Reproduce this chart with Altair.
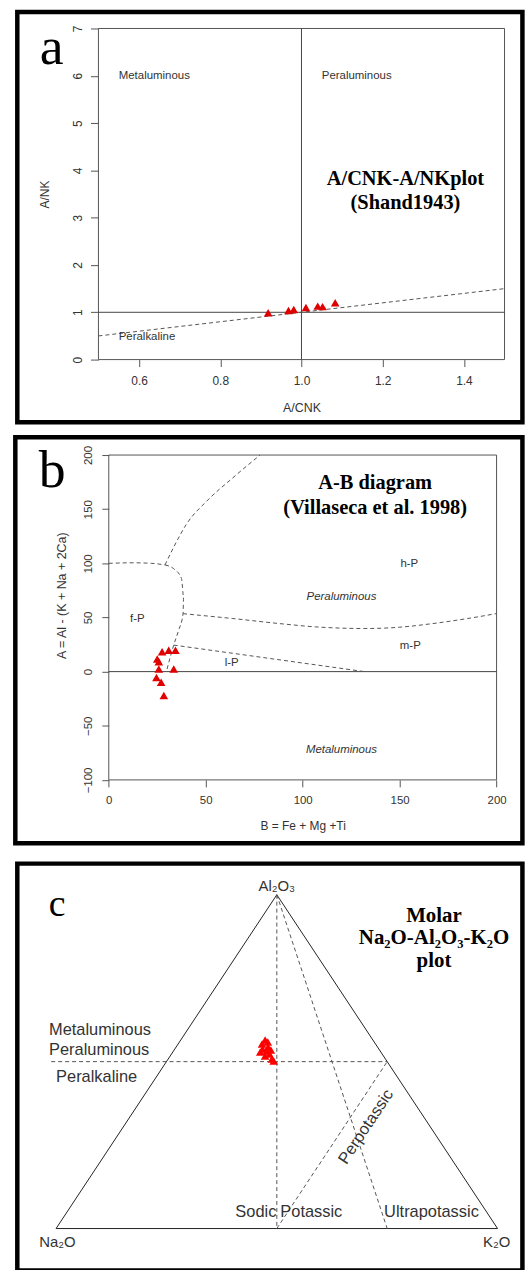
import altair as alt
import pandas as pd

# ---------------- data ----------------
# Panel a : A/CNK - A/NK (Shand 1943)
a_acnk = [0.918, 0.968, 0.981, 1.011, 1.040, 1.052, 1.083]
a_ank = [0.99, 1.04, 1.06, 1.10, 1.13, 1.12, 1.20]
a_div_x = [0.5, 1.5]          # dashed peralkaline divider
a_div_y = [0.5, 1.5]
a_xticks = [0.6, 0.8, 1.0, 1.2, 1.4]
a_yticks = [0, 1, 2, 3, 4, 5, 6, 7]
a_labels = ["Metaluminous", "Peraluminous", "Peralkaline"]
a_label_x = [0.55, 1.05, 0.55]
a_label_y = [6.0, 6.0, 0.47]
a_title = ["A/CNK-A/NKplot", "(Shand1943)"]
a_title_x = [1.256, 1.256]
a_title_y = [3.70, 3.19]

# Panel b : A-B diagram (Villaseca et al. 1998)
b_B = [27.5, 30.9, 34.4, 25.0, 25.8, 25.8, 33.5, 24.6, 27.0, 28.4]
b_A = [18.4, 19.8, 19.8, 11.6, 9.2, 2.4, 2.4, -5.5, -9.8, -22.0]
b_curves = {
    "fP_top": [(0, 100), (12, 100.5), (22, 100), (29, 98.5)],
    "upper": [(29, 98.5), (33.5, 115), (40, 136), (50.6, 157.6), (64, 179), (78, 200)],
    "fP_right": [(29, 98.5), (33.5, 95), (37.5, 86), (38.6, 69), (38.3, 53.5),
                 (36, 38), (33.5, 24.5), (30, 2)],
    "hP_mP": [(38.3, 53.5), (64, 49), (90, 44), (106.8, 41.3), (132.6, 39.8),
              (150, 41), (166.8, 44.3), (185, 49), (200, 53.6)],
    "mP_lP": [(33.5, 24.5), (131.8, 0)],
}
b_xticks = [0, 50, 100, 150, 200]
b_yticks = [-100, -50, 0, 50, 100, 150, 200]
b_labels = ["f-P", "h-P", "m-P", "l-P"]
b_label_x = [14.7, 155, 155.5, 63.4]
b_label_y = [49, 99.5, 23.5, 7.6]
b_italic = ["Peraluminous", "Metaluminous"]
b_italic_x = [120, 120]
b_italic_y = [69, -72]
b_title = ["A-B diagram", "(Villaseca et al. 1998)"]
b_title_x = [137.4, 137.4]
b_title_y = [168.5, 145.5]

# Panel c : molar Na2O - Al2O3 - K2O ternary (proportions)
c_Na = [0.257, 0.244, 0.241, 0.263, 0.257, 0.255, 0.268, 0.257, 0.256, 0.248, 0.246, 0.273]
c_Al = [0.553, 0.565, 0.559, 0.538, 0.532, 0.523, 0.517, 0.508, 0.502, 0.544, 0.535, 0.529]
c_K = [0.190, 0.191, 0.200, 0.199, 0.211, 0.222, 0.215, 0.235, 0.242, 0.208, 0.219, 0.198]
c_frame = [(1, 0, 0), (0, 0, 1), (0, 1, 0), (1, 0, 0)]   # Na2O, K2O, Al2O3 corners
c_guides = {
    "ank1": [(0.761, 0.5, -0.261), (0, 0.5, 0.5)],
    "na_eq_k": [(0, 1, 0), (0.5, 0, 0.5)],
    "ultra": [(0, 1, 0), (0.25, 0, 0.75)],
    "perpot": [(0.5, 0, 0.5), (0, 0.5, 0.5)],
}
# text anchors in the ternary plane (x: Na2O=0 .. K2O=1, y: base=0 .. apex=1)
c_corner = ["Al₂O₃", "Na₂O", "K₂O"]
c_corner_x = [0.5, 0.003, 0.998]
c_corner_y = [1.027, -0.04, -0.04]
c_left = ["Metaluminous", "Peraluminous", "Peralkaline"]
c_left_x = [-0.016, -0.016, 0.0]
c_left_y = [0.595, 0.536, 0.454]
c_field = ["Sodic", "Potassic", "Ultrapotassic"]
c_field_x = [0.499, 0.508, 0.743]
c_field_y = [0.05, 0.05, 0.05]
c_perpot_x, c_perpot_y = 0.702, 0.305
c_title = ["Molar", "Na₂O-Al₂O₃-K₂O", "plot"]
c_title_x = [0.856, 0.856, 0.856]
c_title_y = [0.917, 0.851, 0.785]


def tern_xy(na, al, k):
    s = na + al + k
    return (k + al / 2) / s, al / s


# ---------------- style helpers ----------------
SANS = "Liberation Sans"
SERIF = "Liberation Serif"
RED = "#e00000"
GREY = "#555555"
TXT = "#333333"
one = pd.DataFrame({"d": [0]})


def axis(**kw):
    base = dict(domain=False, grid=False, tickColor=GREY, tickWidth=1,
                labelColor=TXT, titleColor=TXT, labelFont=SANS, titleFont=SANS,
                titleFontWeight="normal", labelFlush=False, labelOverlap=False)
    base.update(kw)
    return alt.Axis(**base)


def border(x1, x2, y1, y2):
    return alt.Chart(one).mark_rect(fill="transparent", stroke="black", strokeWidth=4.5).encode(
        x=alt.value(x1), x2=alt.value(x2), y=alt.value(y1), y2=alt.value(y2))


def letter(t, x, y, size):
    return alt.Chart(pd.DataFrame({"t": [t]})).mark_text(
        font=SERIF, fontSize=size, align="left", baseline="alphabetic", color="black"
    ).encode(x=alt.value(x), y=alt.value(y), text="t:N")


# ---------------- panel a ----------------
axs = alt.Scale(domain=[0.5, 1.5], nice=False, zero=False)
ays = alt.Scale(domain=[0, 7], nice=False, zero=False)
ax_axis = axis(values=a_xticks, format=".1f", tickSize=7, labelFontSize=12, labelPadding=9,
               title="A/CNK", titleFontSize=12.5, titlePadding=15)
ay_axis = axis(values=a_yticks, labelAngle=270, labelAlign="center", labelBaseline="bottom",
               tickSize=8, labelFontSize=12, labelPadding=6, title="A/NK",
               titleFontSize=12, titlePadding=20)


def XA(f="x"):
    return alt.X(f"{f}:Q", scale=axs, axis=ax_axis)


def YA(f="y"):
    return alt.Y(f"{f}:Q", scale=ays, axis=ay_axis)


a_box = alt.Chart(pd.DataFrame({"x": [0.5], "x2": [1.5], "y": [0], "y2": [7]})).mark_rect(
    fill="transparent", stroke=GREY, strokeWidth=1).encode(x=XA(), x2="x2:Q", y=YA(), y2="y2:Q")
a_ref = alt.Chart(pd.DataFrame({"x": [1.0, 0.5], "x2": [1.0, 1.5], "y": [0, 1], "y2": [7, 1]})).mark_rule(
    color="#444444", strokeWidth=1).encode(x=XA(), x2="x2:Q", y=YA(), y2="y2:Q")
a_div = alt.Chart(pd.DataFrame({"x": a_div_x, "y": a_div_y})).mark_line(
    color=GREY, strokeWidth=1, strokeDash=[4, 3]).encode(x=XA(), y=YA())
a_pts = alt.Chart(pd.DataFrame({"x": a_acnk, "y": a_ank})).mark_point(
    shape="triangle-up", filled=True, color=RED, size=75, opacity=1).encode(x=XA(), y=YA())
a_lab = alt.Chart(pd.DataFrame({"x": a_label_x, "y": a_label_y, "t": a_labels})).mark_text(
    font=SANS, fontSize=11.5, align="left", baseline="middle", color=TXT).encode(
    x=XA(), y=YA(), text="t:N")
a_tit = alt.Chart(pd.DataFrame({"x": a_title_x, "y": a_title_y, "t": a_title})).mark_text(
    font=SERIF, fontSize=20.5, fontWeight="bold", align="center", baseline="alphabetic",
    color="black").encode(x=XA(), y=YA(), text="t:N")

panel_a = alt.layer(
    a_box, a_ref, a_div, a_pts, a_lab, a_tit,
    border(-81.6, 426.4, -16.5, 396), letter("a", -59, 36, 54),
).properties(width=408.4, height=333)

# ---------------- panel b ----------------
bxs = alt.Scale(domain=[0, 200], range=[10.4, 400.4], nice=False, zero=False)
bys = alt.Scale(domain=[-100, 200], nice=False, zero=False)
bx_axis = axis(values=b_xticks, tickSize=7, labelFontSize=11.5, labelPadding=8,
               title="B = Fe + Mg +Ti", titleFontSize=12, titlePadding=14)
by_axis = axis(values=b_yticks, labelAngle=270, labelAlign="center", labelBaseline="bottom",
               tickSize=7, labelFontSize=11.5, labelPadding=8, offset=-10.4,
               title="A = Al - (K + Na + 2Ca)", titleFontSize=12.5, titlePadding=15,
               titleY=141, titleAlign="center")


def XB():
    return alt.X("x:Q", scale=bxs, axis=bx_axis)


def YB():
    return alt.Y("y:Q", scale=bys, axis=by_axis)


b_box = alt.Chart(pd.DataFrame({"x": [0], "x2": [200], "y": [-100], "y2": [200]})).mark_rect(
    fill="transparent", stroke=GREY, strokeWidth=1).encode(x=XB(), x2="x2:Q", y=YB(), y2="y2:Q")
b_zero = alt.Chart(pd.DataFrame({"x": [0], "x2": [200], "y": [0]})).mark_rule(
    color="#444444", strokeWidth=1).encode(x=XB(), x2="x2:Q", y=YB())
rows = []
for name, pts in b_curves.items():
    for i, (x, y) in enumerate(pts):
        rows.append({"id": name, "o": i, "x": x, "y": y})
b_lines = alt.Chart(pd.DataFrame(rows)).mark_line(
    color=GREY, strokeWidth=1, strokeDash=[4, 3], interpolate="monotone").encode(
    x=XB(), y=YB(), detail="id:N", order="o:Q")
b_pts = alt.Chart(pd.DataFrame({"x": b_B, "y": b_A})).mark_point(
    shape="triangle-up", filled=True, color=RED, size=75, opacity=1).encode(x=XB(), y=YB())
b_lab = alt.Chart(pd.DataFrame({"x": b_label_x, "y": b_label_y, "t": b_labels})).mark_text(
    font=SANS, fontSize=11.5, align="center", baseline="middle", color=TXT).encode(
    x=XB(), y=YB(), text="t:N")
b_ital = alt.Chart(pd.DataFrame({"x": b_italic_x, "y": b_italic_y, "t": b_italic})).mark_text(
    font=SANS, fontSize=11.5, fontStyle="italic", align="center", baseline="middle",
    color=TXT).encode(x=XB(), y=YB(), text="t:N")
b_tit = alt.Chart(pd.DataFrame({"x": b_title_x, "y": b_title_y, "t": b_title})).mark_text(
    font=SERIF, fontSize=20.5, fontWeight="bold", align="center", baseline="alphabetic",
    color="black").encode(x=XB(), y=YB(), text="t:N")

panel_b = alt.layer(
    b_box, b_zero, b_lines, b_pts, b_lab, b_ital, b_tit,
    border(-83.6, 426.4, -18, 390.5), letter("b", -60, 32, 54),
).properties(width=400.4, height=326.7)

# ---------------- panel c ----------------
cxs = alt.Scale(domain=[0, 1], range=[-42.6, 401.4], nice=False, zero=False)
cys = alt.Scale(domain=[0, 1], nice=False, zero=False)


def XC():
    return alt.X("x:Q", scale=cxs, axis=None)


def YC():
    return alt.Y("y:Q", scale=cys, axis=None)


def tern_df(triples):
    xs, ys = zip(*[tern_xy(*t) for t in triples])
    return pd.DataFrame({"x": xs, "y": ys})


def text_df(xs, ys, ts):
    return pd.DataFrame({"x": xs, "y": ys, "t": ts})


fr = tern_df(c_frame)
fr["o"] = range(len(fr))
c_frame_ch = alt.Chart(fr).mark_line(color="#222222", strokeWidth=1).encode(
    x=XC(), y=YC(), order="o:Q")
rows = []
for name, pts in c_guides.items():
    for i, t in enumerate(pts):
        x, y = tern_xy(*t)
        rows.append({"id": name, "o": i, "x": x, "y": y})
c_guide_ch = alt.Chart(pd.DataFrame(rows)).mark_line(
    color=GREY, strokeWidth=1, strokeDash=[4, 3]).encode(
    x=XC(), y=YC(), detail="id:N", order="o:Q")
c_pts = alt.Chart(tern_df(list(zip(c_Na, c_Al, c_K)))).mark_point(
    shape="triangle-up", filled=True, color="#ff0000", size=75, opacity=1).encode(x=XC(), y=YC())
c_corner_ch = alt.Chart(text_df(c_corner_x, c_corner_y, c_corner)).mark_text(
    font=SANS, fontSize=15, align="center", baseline="middle", color=TXT).encode(
    x=XC(), y=YC(), text="t:N")
c_left_ch = alt.Chart(text_df(c_left_x, c_left_y, c_left)).mark_text(
    font=SANS, fontSize=16.5, align="left", baseline="middle", color=TXT).encode(
    x=XC(), y=YC(), text="t:N")
c_sodic = alt.Chart(text_df(c_field_x[:1], c_field_y[:1], c_field[:1])).mark_text(
    font=SANS, fontSize=16.5, align="right", baseline="middle", color=TXT).encode(
    x=XC(), y=YC(), text="t:N")
c_pot = alt.Chart(text_df(c_field_x[1:], c_field_y[1:], c_field[1:])).mark_text(
    font=SANS, fontSize=16.5, align="left", baseline="middle", color=TXT).encode(
    x=XC(), y=YC(), text="t:N")
c_perpot = alt.Chart(text_df([c_perpot_x], [c_perpot_y], ["Perpotassic"])).mark_text(
    font=SANS, fontSize=16.5, align="center", baseline="middle", color=TXT, angle=303.6).encode(
    x=XC(), y=YC(), text="t:N")
c_tit = alt.Chart(text_df(c_title_x, c_title_y, c_title)).mark_text(
    font=SERIF, fontSize=21, fontWeight="bold", align="center", baseline="alphabetic",
    color="black").encode(x=XC(), y=YC(), text="t:N")

panel_c = alt.layer(
    c_frame_ch, c_guide_ch, c_pts, c_corner_ch, c_left_ch, c_sodic, c_pot, c_perpot, c_tit,
    border(-81.6, 426.4, -31.3, 378), letter("c", -50, 21.7, 38),
).properties(width=401.4, height=335.7)

chart = alt.vconcat(
    alt.vconcat(panel_a, panel_b, spacing=9),
    panel_c, spacing=13.2,
).properties(
    padding={"left": 12, "top": 5, "right": 0, "bottom": 0},
    background="white",
).configure_view(stroke="transparent")

chart.save("out.html", embed_options={"renderer": "svg", "actions": False})
